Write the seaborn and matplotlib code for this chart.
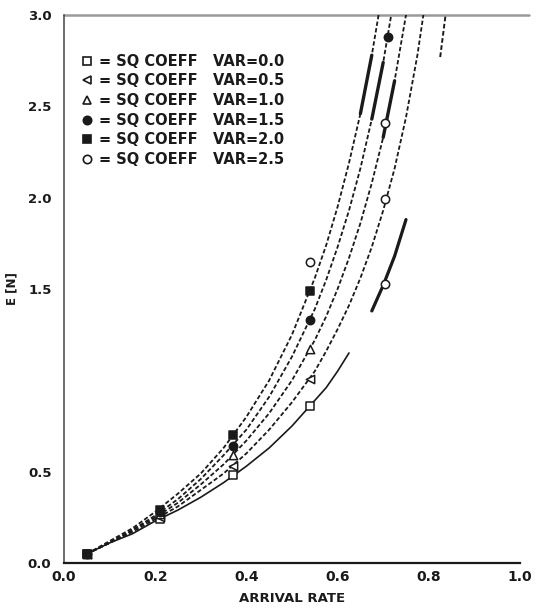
import numpy as np
import pandas as pd
import matplotlib
matplotlib.use("Agg")
import matplotlib.pyplot as plt
import seaborn as sns
from matplotlib.lines import Line2D

# ---------------- data ----------------
rho = [0.05, 0.10, 0.15, 0.20, 0.25, 0.30, 0.35, 0.40, 0.45, 0.50, 0.55, 0.575,
       0.60, 0.625, 0.65, 0.675, 0.70, 0.725, 0.75, 0.775, 0.80, 0.825, 0.85]
en_var00 = [0.05, 0.11, 0.16, 0.23, 0.29, 0.36, 0.44, 0.53, 0.63, 0.75, 0.89, 0.96,
            1.05, 1.15, 1.25, 1.38, 1.52, 1.68, 1.88, 2.11, 2.40, 2.77, 3.26]
en_var05 = [0.05, 0.11, 0.17, 0.24, 0.31, 0.40, 0.49, 0.60, 0.73, 0.88, 1.05, 1.16,
            1.28, 1.41, 1.56, 1.73, 1.93, 2.16, 2.44, 2.78, 3.20]
en_var10 = [0.05, 0.11, 0.18, 0.25, 0.33, 0.43, 0.54, 0.67, 0.82, 1.00, 1.22, 1.35,
            1.50, 1.67, 1.86, 2.08, 2.33, 2.64, 3.00, 3.44]
en_var15 = [0.05, 0.11, 0.18, 0.26, 0.35, 0.46, 0.59, 0.73, 0.91, 1.13, 1.39, 1.55,
            1.73, 1.93, 2.16, 2.43, 2.74, 3.11]
en_var20 = [0.05, 0.12, 0.19, 0.28, 0.38, 0.49, 0.63, 0.80, 1.00, 1.25, 1.56, 1.74,
            1.95, 2.19, 2.46, 2.78, 3.15]

# plotted sample points (markers)
pts_var00_x = [0.05, 0.21, 0.37, 0.54]
pts_var00_y = [0.05, 0.24, 0.48, 0.86]
pts_var05_x = [0.05, 0.21, 0.37, 0.54]
pts_var05_y = [0.05, 0.25, 0.53, 1.01]
pts_var10_x = [0.05, 0.21, 0.37, 0.54]
pts_var10_y = [0.05, 0.27, 0.59, 1.17]
pts_var15_x = [0.05, 0.21, 0.37, 0.54, 0.71]
pts_var15_y = [0.05, 0.28, 0.64, 1.33, 2.88]
pts_var20_x = [0.05, 0.21, 0.37, 0.54]
pts_var20_y = [0.05, 0.29, 0.70, 1.49]
pts_var25_x = [0.54, 0.705, 0.705, 0.705]
pts_var25_y = [1.65, 1.53, 1.99, 2.41]

legend_labels = ["= SQ COEFF   VAR=0.0", "= SQ COEFF   VAR=0.5", "= SQ COEFF   VAR=1.0",
                 "= SQ COEFF   VAR=1.5", "= SQ COEFF   VAR=2.0", "= SQ COEFF   VAR=2.5"]
x_ticks = [0.0, 0.2, 0.4, 0.6, 0.8, 1.0]
x_ticklabels = ["0.0", "0.2", "0.4", "0.6", "0.8", "1.0"]
y_ticks = [0.0, 0.5, 1.5, 2.0, 2.5, 3.0]
y_ticklabels = ["0.0", "0.5", "1.5", "2.0", "2.5", "3.0"]

# ---------------- styling ----------------
sns.set_theme(style="white")
plt.rcParams["font.family"] = ["DejaVu Sans"]
plt.rcParams["font.weight"] = "bold"
INK = "#1a1a1a"

fig = plt.figure(figsize=(5.37, 6.14), dpi=100)
ax = fig.add_axes([64 / 537, 51 / 614, 456 / 537, 548 / 614])

def curve_df(ys, lo=None, hi=None):
    xs = rho[:len(ys)]
    df = pd.DataFrame({"rho": xs, "en": ys})
    if lo is not None:
        df = df[df.rho >= lo - 1e-9]
    if hi is not None:
        df = df[df.rho <= hi + 1e-9]
    return df

dash = (2.4, 1.3)
# VAR = 0.0 curve: solid lower part, bold segment, dashed top
sns.lineplot(data=curve_df(en_var00, hi=0.625), x="rho", y="en", ax=ax,
             color=INK, lw=1.2, sort=False)
sns.lineplot(data=curve_df(en_var00, lo=0.675, hi=0.75), x="rho", y="en", ax=ax,
             color=INK, lw=2.3, sort=False)
sns.lineplot(data=curve_df(en_var00, lo=0.825), x="rho", y="en", ax=ax,
             color=INK, lw=1.4, sort=False)
ax.lines[-1].set_dashes(dash)

for ys in (en_var05, en_var10, en_var15, en_var20):
    sns.lineplot(data=curve_df(ys), x="rho", y="en", ax=ax, color=INK, lw=1.3, sort=False)
    ax.lines[-1].set_dashes(dash)

# bold strokes on the steep part
for ys, lo, hi in ((en_var20, 0.65, 0.675), (en_var15, 0.675, 0.70), (en_var10, 0.70, 0.725)):
    sns.lineplot(data=curve_df(ys, lo=lo, hi=hi), x="rho", y="en", ax=ax,
                 color=INK, lw=2.4, sort=False)

# markers
mk = dict(s=36, linewidth=1.1, edgecolor=INK, zorder=5)
sns.scatterplot(x=pts_var00_x, y=pts_var00_y, marker="s", facecolor="white", ax=ax, **mk)
sns.scatterplot(x=pts_var05_x, y=pts_var05_y, marker="<", facecolor="white", ax=ax, **mk)
sns.scatterplot(x=pts_var10_x, y=pts_var10_y, marker="^", facecolor="white", ax=ax, **mk)
sns.scatterplot(x=pts_var25_x, y=pts_var25_y, marker="o", facecolor="white", ax=ax, **mk)
sns.scatterplot(x=pts_var15_x, y=pts_var15_y, marker="o", color=INK, ax=ax, **mk)
sns.scatterplot(x=pts_var20_x, y=pts_var20_y, marker="s", color=INK, ax=ax, **mk)

# axes
ax.set_xlim(0, 1.0)
ax.set_ylim(0, 3.0)
ax.set_xticks(x_ticks)
ax.set_xticklabels(x_ticklabels, fontsize=10, fontweight="bold", color=INK)
ax.set_yticks(y_ticks)
ax.set_yticklabels(y_ticklabels, fontsize=9.5, fontweight="bold", color=INK)
ax.get_yticklabels()[-1].set_color("#9a9a9a")
ax.tick_params(axis="x", direction="in", length=9, width=1.3, pad=5, colors=INK)
ax.tick_params(axis="y", direction="inout", length=12, width=1.2, pad=3, colors=INK)
ax.set_xlabel("ARRIVAL RATE", fontsize=9.5, fontweight="bold", color=INK, labelpad=6)
ax.set_ylabel("E [N]", fontsize=8.5, fontweight="bold", color=INK, labelpad=7)

for side in ("right", "top"):
    ax.spines[side].set_visible(False)
ax.spines["left"].set_color("#444444")
ax.spines["left"].set_linewidth(1.1)
ax.spines["bottom"].set_color(INK)
ax.spines["bottom"].set_linewidth(1.6)
ax.plot([0, 1.02], [3.0, 3.0], color="#9a9a9a", lw=1.8, clip_on=False, zorder=1)

# legend
handles = [
    Line2D([], [], ls="none", marker="s", mfc="white", mec=INK, mew=1.2, ms=6),
    Line2D([], [], ls="none", marker="<", mfc="white", mec=INK, mew=1.2, ms=6),
    Line2D([], [], ls="none", marker="^", mfc="white", mec=INK, mew=1.2, ms=6),
    Line2D([], [], ls="none", marker="o", mfc=INK, mec=INK, mew=1.2, ms=6),
    Line2D([], [], ls="none", marker="s", mfc=INK, mec=INK, mew=1.2, ms=6),
    Line2D([], [], ls="none", marker="o", mfc="white", mec=INK, mew=1.2, ms=6),
]
leg = ax.legend(handles, legend_labels, loc="upper left", bbox_to_anchor=(0.025, 0.94),
                frameon=False, handlelength=0.8, handletextpad=0.4, labelspacing=0.32,
                borderaxespad=0, prop={"size": 10.5, "weight": "bold"})
for t in leg.get_texts():
    t.set_color(INK)

fig.savefig("out.png", dpi=100, facecolor="white")
